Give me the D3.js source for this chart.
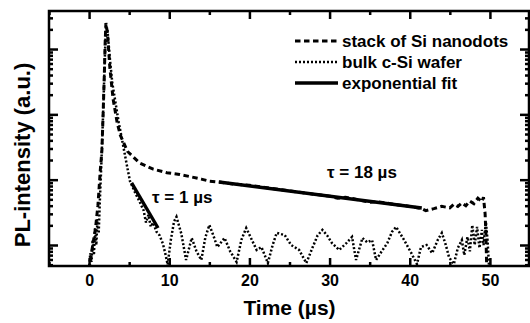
<!DOCTYPE html>
<html>
<head>
<meta charset="utf-8">
<script src="https://cdn.jsdelivr.net/npm/d3@7/dist/d3.min.js"></script>
<style>
  body { margin: 0; background: #fff; }
  svg text { font-family: "Liberation Sans", Arial, sans-serif; font-weight: bold; fill: #000; }
</style>
</head>
<body>
<div id="chart"></div>
<script>
// stack of Si nanodots (dashed)
const dotsTime = [0.0, 0.4, 0.8, 1.1, 1.4, 1.6, 1.75, 1.9, 2.0, 2.1, 2.3, 2.6, 3.0, 3.5, 3.9, 4.8, 6.3, 8.0, 9.7, 11.3,
  12.5, 14.0, 15.0, 16.2, 18, 20, 22, 24, 26, 28, 30, 31, 32, 34, 35, 36, 38, 40, 41.5, 42, 43, 44, 45, 45.5, 46, 46.5,
  47, 47.5, 48, 48.5, 49, 49.2, 49.4, 49.5, 49.6];
const dotsPL = [0.42, 0.9, 1.8, 4, 14, 28, 100, 400, 1200, 2500, 1700, 500, 170, 75, 48, 27, 18, 14.5, 12.8, 12.0,
  11.2, 10.2, 9.5, 9.2, 8.6, 8.2, 7.6, 7.0, 6.5, 6.0, 5.6, 5.2, 5.4, 4.8, 4.5, 4.6, 4.2, 3.9, 3.6, 3.35, 3.6, 3.9, 3.7, 4.2, 3.9, 4.4,
  4.0, 4.7, 4.3, 5.2, 4.6, 5.4, 3.0, 1.5, 0.45];

// bulk c-Si wafer (dotted)
const bulkTime = [0.0, 0.15, 0.3, 0.45, 0.6, 0.75, 0.9, 1.05, 1.2, 1.35, 1.5, 1.65, 1.8, 1.95, 2.1,
  2.3, 2.6, 2.9, 3.3, 3.7, 4.2, 4.7, 5.1, 5.7, 6.3, 6.8, 7.1, 7.4, 7.7, 8.0, 8.4, 8.8, 9.2, 9.5, 9.8,
  10.2, 10.6, 10.9, 11.5, 12.1, 12.8, 13.4, 14.0, 14.5, 15.0, 15.5, 16.0, 16.9, 17.6, 18.4, 19.0, 19.6, 20.3, 20.9,
  21.5, 22.3, 22.9, 23.4, 24.4, 25.2, 26.2, 27.1, 27.9, 28.5, 29.1, 29.7, 30.3, 31.2, 32.1, 32.8, 33.3, 34.1, 34.7,
  35.3, 35.8, 36.5, 37.2, 37.8, 38.3, 38.8, 39.3, 40.2, 40.9, 41.4, 42.1, 42.8, 43.5, 44.0, 44.5, 44.9, 45.5, 46.0,
  46.5, 46.8, 47.2, 47.5, 47.8, 48.1, 48.4, 48.7, 49.0, 49.2, 49.5, 49.7, 49.9];
const bulkPL = [0.42, 0.75, 0.55, 1.2, 0.7, 1.8, 1.0, 2.5, 1.5, 5, 14, 45, 160, 650, 2300,
  1900, 700, 300, 150, 75, 36, 17, 9.5, 6.5, 4.6, 3.4, 2.2, 2.9, 1.9, 2.2, 1.6, 1.4, 1.05, 0.75, 0.5,
  1.2, 2.3, 2.7, 1.5, 0.59, 1.28, 0.8, 0.59, 1.3, 2.02, 1.4, 0.93, 1.28, 0.8, 0.55, 1.2, 1.82, 1.2, 0.84,
  0.93, 0.53, 1.0, 1.53, 1.42, 1.0, 0.84, 0.53, 0.93, 1.4, 1.7, 1.4, 1.07, 0.84, 1.07, 1.33, 0.59, 1.28, 1.1,
  1.19, 0.59, 0.8, 1.07, 1.6, 1.89, 1.5, 1.19, 0.75, 0.51, 0.93, 1.0, 0.75, 1.2, 1.53, 1.0, 0.65, 0.51, 0.9,
  1.19, 0.7, 1.33, 0.8, 2.02, 1.0, 1.89, 0.9, 1.7, 1.0, 2.25, 1.2, 0.45];

// exponential fits (straight on the log axis, so two ends are enough)
const fitSlowTime = [16.2, 41.5];
const fitSlowPL = [9.2, 3.69];
const fitFastTime = [5.3, 8.6];
const fitFastPL = [8.9, 1.82];

const xMajor = [0, 10, 20, 30, 40, 50];
const xMinor = [-5, 5, 15, 25, 35, 45, 55];
const legendLabels = ['stack of Si nanodots', 'bulk c-Si wafer', 'exponential fit'];

const toPoints = (ts, vs) => ts.map((t, i) => ({ t: t, v: vs[i] }));

const width = 530, height = 323;
const plot = { left: 49, right: 530, top: 11, bottom: 266 };

const svg = d3.select('#chart').append('svg')
  .attr('width', width)
  .attr('height', height);

const x = d3.scaleLinear().domain([-5, 55]).range([plot.left, plot.right]);
const y = d3.scaleLog().domain([0.477, 3820]).range([plot.bottom, plot.top]);

const yAll = y.ticks();
const yMajor = yAll.filter(d => Math.abs(Math.log10(d) - Math.round(Math.log10(d))) < 1e-6);
const yMinor = yAll.filter(d => yMajor.indexOf(d) < 0);

svg.append('clipPath').attr('id', 'clip')
  .append('rect')
  .attr('x', plot.left).attr('y', plot.top)
  .attr('width', plot.right - plot.left).attr('height', plot.bottom - plot.top);

const line = d3.line().x(d => x(d.t)).y(d => y(d.v));
const data = svg.append('g').attr('clip-path', 'url(#clip)');

const dottedStyle = { dash: '2,2', w: 2.5 };
const dashedStyle = { dash: '5.5,3.5', w: 3 };
const fitWidth = 3.4;

data.append('path')
  .datum(toPoints(bulkTime, bulkPL))
  .attr('d', line)
  .attr('fill', 'none').attr('stroke', '#000')
  .attr('stroke-width', dottedStyle.w).attr('stroke-dasharray', dottedStyle.dash);

data.append('path')
  .datum(toPoints(dotsTime, dotsPL))
  .attr('d', line)
  .attr('fill', 'none').attr('stroke', '#000')
  .attr('stroke-width', dashedStyle.w).attr('stroke-dasharray', dashedStyle.dash);

[[fitSlowTime, fitSlowPL], [fitFastTime, fitFastPL]].forEach(f => {
  data.append('path')
    .datum(toPoints(f[0], f[1]))
    .attr('d', line)
    .attr('fill', 'none').attr('stroke', '#000')
    .attr('stroke-width', fitWidth);
});

// axes, ticks pointing inward on all four sides
function styleAxis(g) {
  g.select('.domain').remove();
  g.selectAll('.tick line').attr('stroke', '#000').attr('stroke-width', 2.5);
}
svg.append('g').attr('transform', `translate(0,${plot.bottom})`)
  .call(d3.axisBottom(x).tickValues(xMajor).tickSize(-8).tickPadding(9).tickFormat(d3.format('d')))
  .call(styleAxis)
  .selectAll('text').attr('font-size', 16).attr('font-family', null);
svg.append('g').attr('transform', `translate(0,${plot.bottom})`)
  .call(d3.axisBottom(x).tickValues(xMinor).tickSize(-4).tickFormat(''))
  .call(styleAxis);
svg.append('g').attr('transform', `translate(0,${plot.top})`)
  .call(d3.axisTop(x).tickValues(xMajor).tickSize(-8).tickFormat(''))
  .call(styleAxis);
svg.append('g').attr('transform', `translate(0,${plot.top})`)
  .call(d3.axisTop(x).tickValues(xMinor).tickSize(-4).tickFormat(''))
  .call(styleAxis);
svg.append('g').attr('transform', `translate(${plot.left},0)`)
  .call(d3.axisLeft(y).tickValues(yMajor).tickSize(-9).tickFormat(''))
  .call(styleAxis);
svg.append('g').attr('transform', `translate(${plot.left},0)`)
  .call(d3.axisLeft(y).tickValues(yMinor).tickSize(-4).tickFormat(''))
  .call(styleAxis);
svg.append('g').attr('transform', `translate(${plot.right - 1},0)`)
  .call(d3.axisRight(y).tickValues(yMajor).tickSize(-9).tickFormat(''))
  .call(styleAxis);
svg.append('g').attr('transform', `translate(${plot.right - 1},0)`)
  .call(d3.axisRight(y).tickValues(yMinor).tickSize(-4).tickFormat(''))
  .call(styleAxis);

svg.append('rect')
  .attr('x', plot.left).attr('y', plot.top)
  .attr('width', plot.right - plot.left - 1).attr('height', plot.bottom - plot.top)
  .attr('fill', 'none').attr('stroke', '#000').attr('stroke-width', 2.5);

// axis titles
svg.append('text')
  .attr('x', (plot.left + plot.right) / 2).attr('y', 315)
  .attr('text-anchor', 'middle').attr('font-size', 21)
  .text('Time (µs)');
svg.append('text')
  .attr('transform', 'translate(30,155) rotate(-90)')
  .attr('text-anchor', 'middle').attr('font-size', 22)
  .text('PL-intensity (a.u.)');

// lifetime labels
svg.append('text').attr('x', 327).attr('y', 178).attr('font-size', 17).text('τ = 18 µs');
svg.append('text').attr('x', 152).attr('y', 203).attr('font-size', 17).text('τ = 1 µs');

// legend
const legendStyles = [dashedStyle, dottedStyle, { dash: null, w: fitWidth }];
const legend = svg.append('g');
legendLabels.forEach((label, i) => {
  const ly = 41 + i * 21;
  legend.append('line')
    .attr('x1', 295).attr('x2', 338).attr('y1', ly).attr('y2', ly)
    .attr('stroke', '#000').attr('stroke-width', legendStyles[i].w)
    .attr('stroke-dasharray', legendStyles[i].dash);
  legend.append('text')
    .attr('x', 342).attr('y', ly + 6).attr('font-size', 17)
    .text(label);
});
</script>
</body>
</html>
